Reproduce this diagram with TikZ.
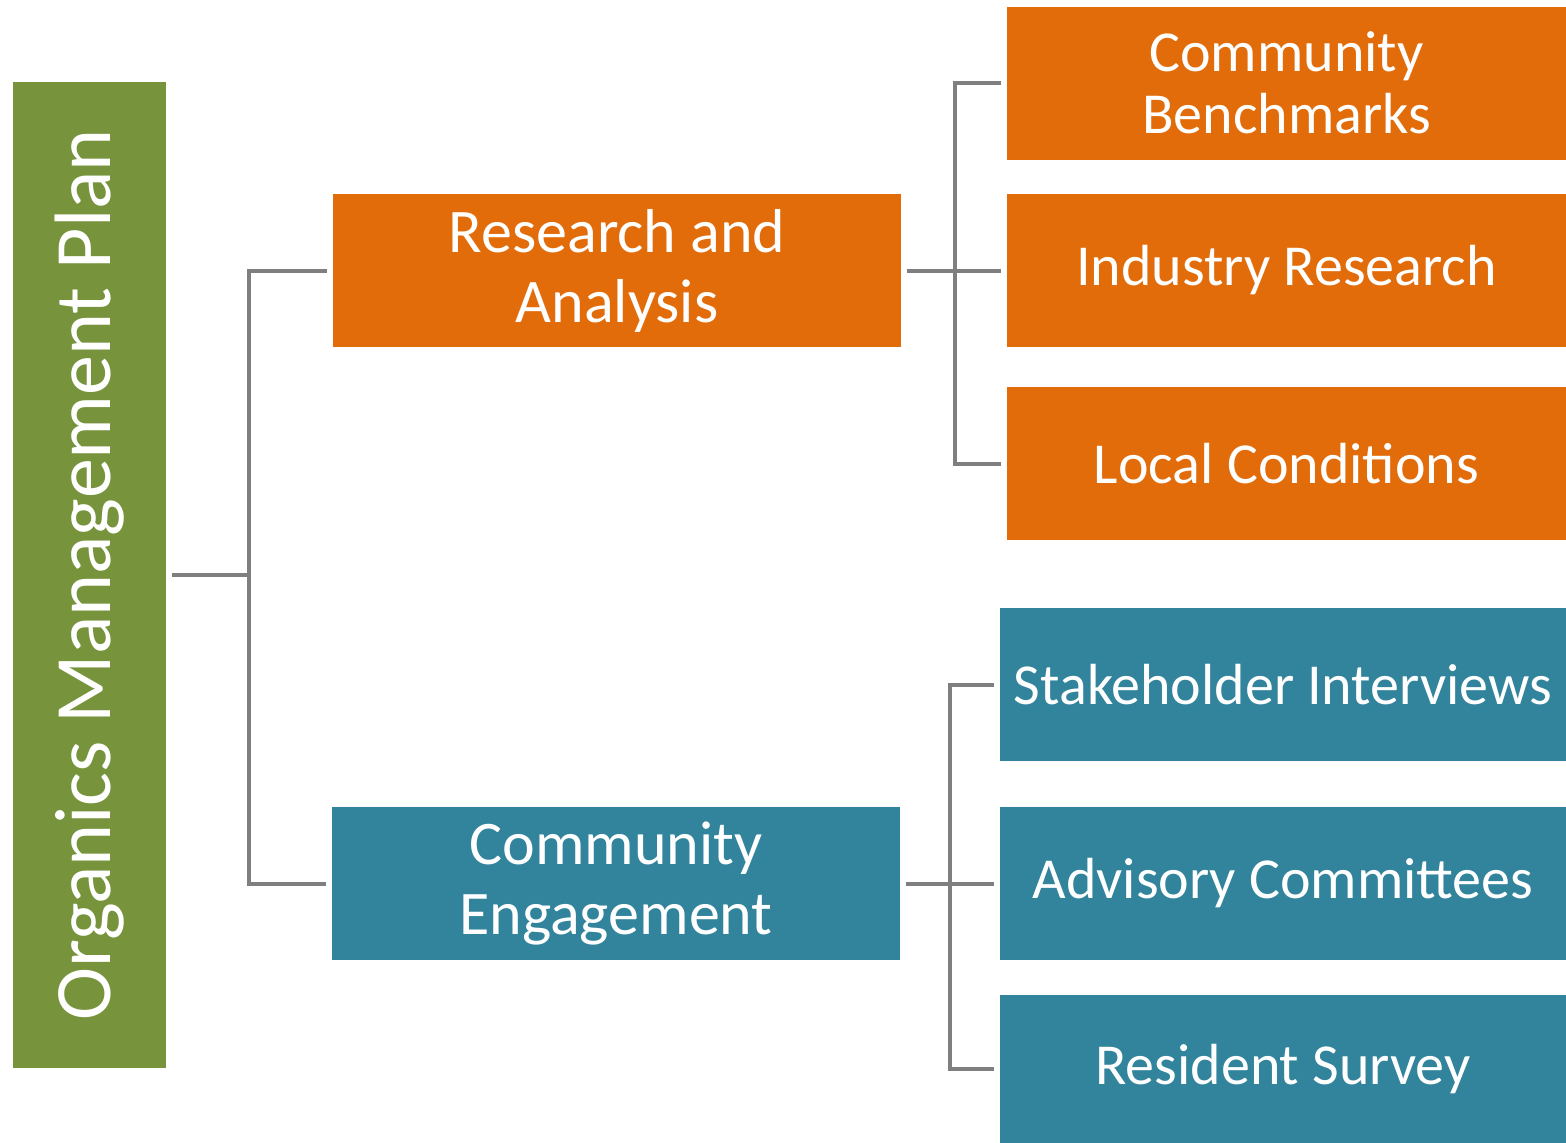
\documentclass[tikz,border=0pt]{standalone}
\usepackage{fontspec}
\setmainfont{Carlito}
\definecolor{omporange}{HTML}{E36C0A}
\definecolor{ompteal}{HTML}{31849B}
\definecolor{ompgreen}{HTML}{77933C}
\definecolor{ompgray}{HTML}{7F7F7F}
\begin{document}
\begin{tikzpicture}[x=1pt,y=-1pt,
  box/.style={draw=none, inner sep=0pt, outer sep=0pt, text=white, align=center},
  midbox/.style={box, minimum width=568pt, minimum height=153pt, font=\fontsize{62}{70}\selectfont},
  leafbox/.style={box, minimum height=153pt, font=\fontsize{58}{62}\selectfont},
  conn/.style={draw=ompgray, line width=4pt}]
\useasboundingbox (0,0) rectangle (1566,1143);
% root
\node[box, fill=ompgreen, minimum width=153pt, minimum height=986pt, font=\fontsize{80}{96}\selectfont] (root) at (89.5,575) {\rotatebox{90}{Organics Management Plan}};
% middle level
\node[midbox, fill=omporange] (ra) at (617,270.5) {Research and\\Analysis};
\node[midbox, fill=ompteal] (ce) at (616,883.5) {Community\\Engagement};
% leaves
\node[leafbox, fill=omporange, minimum width=559pt] (cb) at (1286.5,83) {Community\\Benchmarks};
\node[leafbox, fill=omporange, minimum width=559pt] (ir) at (1286.5,270.5) {Industry Research};
\node[leafbox, fill=omporange, minimum width=559pt] (lc) at (1286.5,463.5) {Local Conditions};
\node[leafbox, fill=ompteal, minimum width=566pt] (si) at (1283,684.5) {Stakeholder Interviews};
\node[leafbox, fill=ompteal, minimum width=566pt] (ac) at (1283,883.5) {Advisory Committees};
\node[leafbox, fill=ompteal, minimum width=566pt, minimum height=148pt] (rs) at (1283,1069) {Resident Survey};
% junctions
\coordinate (j1) at (249,575);
\coordinate (j2) at (955,270.5);
\coordinate (j3) at (950,883.5);
% connectors
\draw[conn, shorten <=6pt] (root.east) -- (j1);
\draw[conn, shorten >=6pt] (j1) |- (ra.west);
\draw[conn, shorten >=6pt] (j1) |- (ce.west);
\draw[conn, shorten <=6pt] (ra.east) -- (j2);
\draw[conn, shorten >=6pt] (j2) |- (cb.west);
\draw[conn, shorten >=6pt] (j2) -- (ir.west);
\draw[conn, shorten >=6pt] (j2) |- (lc.west);
\draw[conn, shorten <=6pt] (ce.east) -- (j3);
\draw[conn, shorten >=6pt] (j3) |- (si.west);
\draw[conn, shorten >=6pt] (j3) -- (ac.west);
\draw[conn, shorten >=6pt] (j3) |- (rs.west);
\end{tikzpicture}
\end{document}
